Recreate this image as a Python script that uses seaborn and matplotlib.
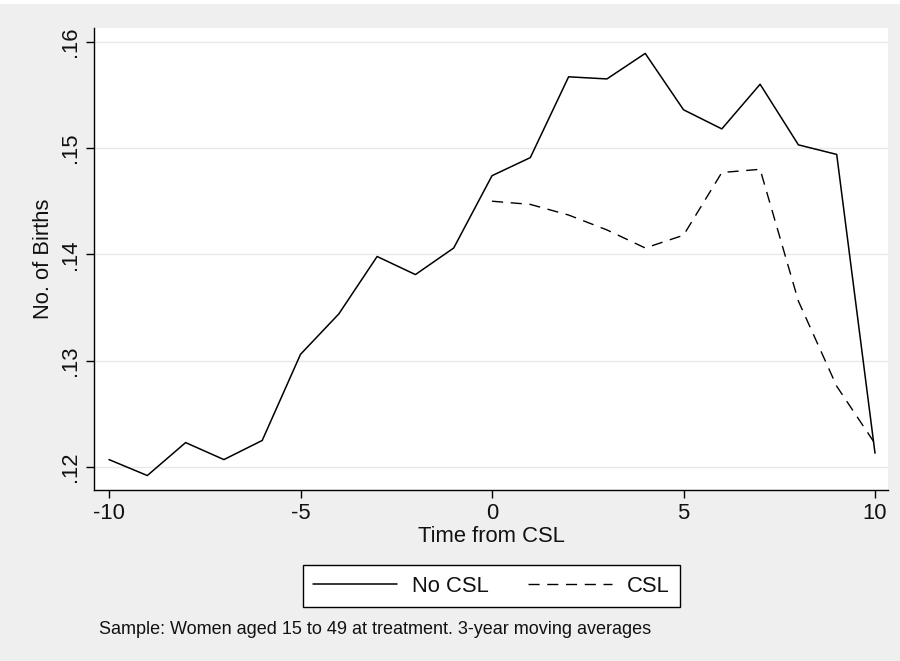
import numpy as np
import pandas as pd
import matplotlib
matplotlib.use("Agg")
import matplotlib.pyplot as plt
from matplotlib.patches import Rectangle
from matplotlib.lines import Line2D
import seaborn as sns

# ---- data ----
time_no_csl = list(range(-10, 11))
births_no_csl = [0.1207, 0.1192, 0.1223, 0.1207, 0.1225, 0.1306, 0.1344, 0.1398,
                 0.1381, 0.1406, 0.1474, 0.1491, 0.1567, 0.1565, 0.1589, 0.1536,
                 0.1518, 0.1560, 0.1503, 0.1494, 0.1213]
time_csl = list(range(0, 11))
births_csl = [0.1450, 0.1447, 0.1437, 0.1423, 0.1406, 0.1418, 0.1477, 0.1480,
              0.1356, 0.1276, 0.1222]
x_ticks = [-10, -5, 0, 5, 10]
y_ticks = [0.12, 0.13, 0.14, 0.15, 0.16]
y_tick_labels = [".12", ".13", ".14", ".15", ".16"]
series_labels = ["No CSL", "CSL"]
x_title = "Time from CSL"
y_title = "No. of Births"
note = "Sample: Women aged 15 to 49 at treatment. 3-year moving averages"

df_no = pd.DataFrame({"t": time_no_csl, "b": births_no_csl})
df_csl = pd.DataFrame({"t": time_csl, "b": births_csl})

sns.set_theme(style="white")
plt.rcParams["font.family"] = ["Liberation Sans", "DejaVu Sans"]

W, H = 900, 661
FS = 15.8   # ~22 px
BG = "#efefef"
DASH = (8, 5.5)

fig = plt.figure(figsize=(W / 100, H / 100), dpi=100)
fig.patch.set_facecolor(BG)
fig.patches.append(Rectangle((0, 1 - 4 / H), 1, 4 / H, transform=fig.transFigure,
                             facecolor="white", edgecolor="none", zorder=0))

ax = fig.add_axes([94 / W, 1 - 490 / H, (888 - 94) / W, (490 - 28) / H])
ax.set_facecolor("white")

sns.lineplot(data=df_no, x="t", y="b", ax=ax, color="black", lw=1.1,
             label=series_labels[0], legend=False)
sns.lineplot(data=df_csl, x="t", y="b", ax=ax, color="black", lw=1.0,
             label=series_labels[1], legend=False)
ax.lines[1].set_dashes(DASH)

ax.set_xlim(-10.392, 10.339)
ax.set_ylim(0.11784, 0.16129)
ax.set_xticks(x_ticks)
ax.set_xticklabels([str(v) for v in x_ticks])
ax.set_yticks(y_ticks)
ax.set_yticklabels(y_tick_labels, rotation=90, va="center")

ax.grid(axis="y", color="#e8e8e8", lw=1.0)
ax.grid(axis="x", visible=False)
for s in ["top", "right"]:
    ax.spines[s].set_visible(False)
for s in ["left", "bottom"]:
    ax.spines[s].set_color("black")
    ax.spines[s].set_linewidth(1.0)

ax.tick_params(axis="both", which="major", direction="out", length=5.5, width=1.0,
               color="black", labelsize=FS, labelcolor="#111111", pad=4)
ax.tick_params(axis="x", bottom=True)
ax.tick_params(axis="y", left=True)

ax.set_xlabel(x_title, fontsize=FS, color="#111111", labelpad=1)
ax.set_ylabel(y_title, fontsize=FS, color="#111111", labelpad=4)

handles = [Line2D([], [], color="black", lw=1.1),
           Line2D([], [], color="black", lw=1.0, dashes=DASH)]
leg = fig.legend(handles, series_labels, loc="upper center",
                 bbox_to_anchor=((303 + 680) / 2 / W, 1 - 565 / H),
                 ncol=2, fontsize=FS, frameon=True, fancybox=False,
                 edgecolor="black", facecolor="white", framealpha=1,
                 handlelength=3.8, handletextpad=0.7, columnspacing=1.8,
                 borderpad=0.48, borderaxespad=0)
leg.get_frame().set_linewidth(1.0)
for t in leg.get_texts():
    t.set_color("#111111")

fig.text(99 / W, 1 - 634 / H, note, fontsize=13, color="#111111",
         ha="left", va="baseline")

fig.savefig("out.png", dpi=100, facecolor=fig.get_facecolor())
